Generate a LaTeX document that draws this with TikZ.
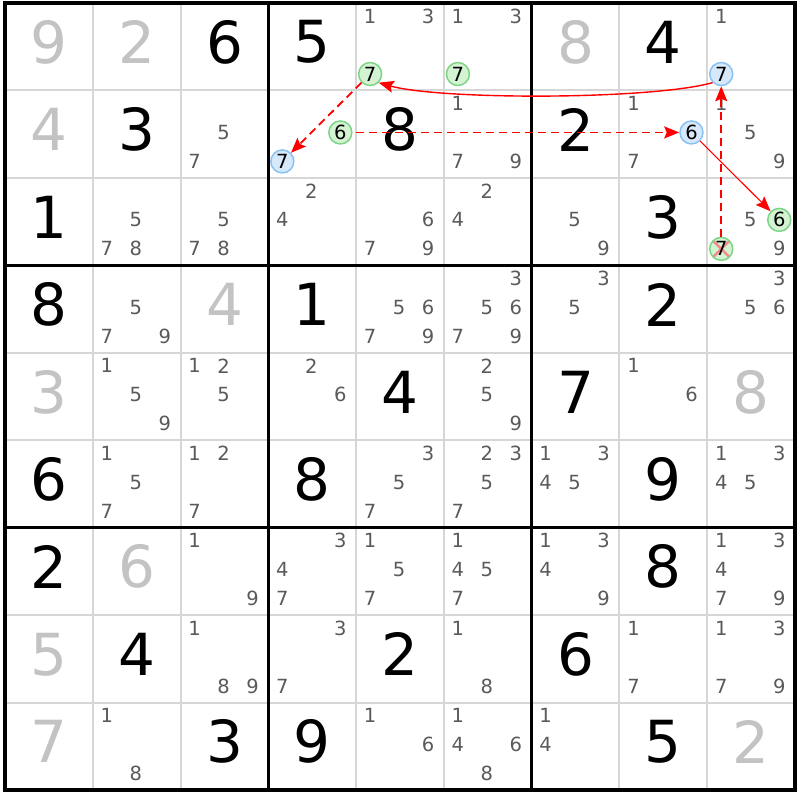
\documentclass[tikz,border=0pt]{standalone}
\usepackage{fontspec}
\setmainfont{DejaVu Sans}
\usetikzlibrary{arrows.meta}
\definecolor{thinline}{HTML}{D6D6D6}
\definecolor{givgray}{HTML}{C3C3C3}
\definecolor{candgray}{HTML}{5A5A5A}
\definecolor{grfill}{HTML}{D3F3D3}
\definecolor{grline}{HTML}{7ED486}
\definecolor{blfill}{HTML}{D6E9FB}
\definecolor{blline}{HTML}{8CC1F2}
\definecolor{xred}{HTML}{F28C8C}
\begin{document}
\begin{tikzpicture}[x=1pt,y=-1pt,
  bigdig/.style={font=\fontsize{58}{58}\selectfont, inner sep=0pt, text=black},
  biggray/.style={bigdig, text=givgray},
  cand/.style={font=\fontsize{19.5}{19.5}\selectfont, inner sep=0pt, text=candgray},
  hlbase/.style={circle, minimum size=23pt, inner sep=0pt, line width=1.5pt, font=\fontsize{19.5}{19.5}\selectfont, text=black},
  hlgreen/.style={hlbase, draw=grline, fill=grfill},
  hlblue/.style={hlbase, draw=blline, fill=blfill},
  crossed/.style={path picture={\draw[xred,line width=2.5pt]
      (path picture bounding box.south west) -- (path picture bounding box.north east)
      (path picture bounding box.north west) -- (path picture bounding box.south east);}},
  link/.style={red, line width=1.4pt, -{Stealth[length=15pt,width=12pt,inset=2.5pt]}},
  weak/.style={link, line width=1.8pt, dash pattern=on 8pt off 5pt},
  thingrid/.style={thinline, line width=2pt},
  thickgrid/.style={black, line width=3.2pt},
]
\def\CW{87.78}
\def\CH{87.44}
\useasboundingbox (0,0) rectangle (800,800);
\fill[white] (0,0) rectangle (800,800);
% thin grid lines
\foreach \i in {1,2,4,5,7,8} {
  \draw[thingrid] ({5+\i*\CW},3) -- ({5+\i*\CW},790);
  \draw[thingrid] (5,{3+\i*\CH}) -- (795,{3+\i*\CH});
}
% thick grid lines
\foreach \i in {3,6} {
  \draw[thickgrid] ({5+\i*\CW},3) -- ({5+\i*\CW},790);
  \draw[thickgrid] (5,{3+\i*\CH}) -- (795,{3+\i*\CH});
}
\draw[thickgrid] (5,3) rectangle (795,790);
% black given digits
\foreach \r/\c/\d in {1/3/6,1/4/5,1/8/4,2/2/3,2/5/8,2/7/2,3/1/1,3/8/3,4/1/8,4/4/1,4/8/2,
  5/5/4,5/7/7,6/1/6,6/4/8,6/8/9,7/1/2,7/8/8,8/2/4,8/5/2,8/7/6,9/3/3,9/4/9,9/8/5}
  \node[bigdig] (g\r\c) at ({5+(\c-0.5)*\CW},{3+(\r-0.5)*\CH-4.5}) {\d};
% gray digits
\foreach \r/\c/\d in {1/1/9,1/2/2,1/7/8,2/1/4,4/3/4,5/1/3,5/9/8,7/2/6,8/1/5,9/1/7,9/9/2}
  \node[biggray] (g\r\c) at ({5+(\c-0.5)*\CW},{3+(\r-0.5)*\CH-4.5}) {\d};
% candidates
\foreach \r/\c/\L in {1/5/{1,3,7},1/6/{1,3,7},1/9/{1,7},
  2/3/{5,7},2/4/{6,7},2/6/{1,7,9},2/8/{1,6,7},2/9/{1,5,9},
  3/2/{5,7,8},3/3/{5,7,8},3/4/{2,4},3/5/{6,7,9},3/6/{2,4},3/7/{5,9},3/9/{5,6,7,9},
  4/2/{5,7,9},4/5/{5,6,7,9},4/6/{3,5,6,7,9},4/7/{3,5},4/9/{3,5,6},
  5/2/{1,5,9},5/3/{1,2,5},5/4/{2,6},5/6/{2,5,9},5/8/{1,6},
  6/2/{1,5,7},6/3/{1,2,7},6/5/{3,5,7},6/6/{2,3,5,7},6/7/{1,3,4,5},6/9/{1,3,4,5},
  7/3/{1,9},7/4/{3,4,7},7/5/{1,5,7},7/6/{1,4,5,7},7/7/{1,3,4,9},7/9/{1,3,4,7,9},
  8/3/{1,8,9},8/4/{3,7},8/6/{1,8},8/8/{1,7},8/9/{1,3,7,9},
  9/2/{1,8},9/5/{1,6},9/6/{1,4,6,8},9/7/{1,4}}
  \foreach \d in \L
    \node[cand] (k\r\c\d) at ({5+(\c-1)*\CW+14+mod(\d-1,3)*29},{3+(\r-1)*\CH+13+floor((\d-1)/3)*29}) {\d};
% highlighted candidates
\foreach \r/\c/\d/\st in {1/5/7/hlgreen,1/6/7/hlgreen,2/4/6/hlgreen,3/9/6/hlgreen,
  1/9/7/hlblue,2/4/7/hlblue,2/8/6/hlblue}
  \node[\st] (s\r\c\d) at ({5+(\c-1)*\CW+14+mod(\d-1,3)*29},{3+(\r-1)*\CH+13+floor((\d-1)/3)*29}) {\d};
\node[hlgreen,crossed] (s397) at ({5+8*\CW+14},{3+2*\CH+13+58}) {7};
% chain
\draw[link] (s197.south west) .. controls (650,100) and (440,100) .. (s157.south east);
\draw[weak] (s157) -- (s247);
\draw[weak, shorten <=3pt] (s246) -- (s286);
\draw[link, line width=1.1pt] (s286) -- (s396);
\draw[weak] (s397) -- (s197);
\end{tikzpicture}
\end{document}
